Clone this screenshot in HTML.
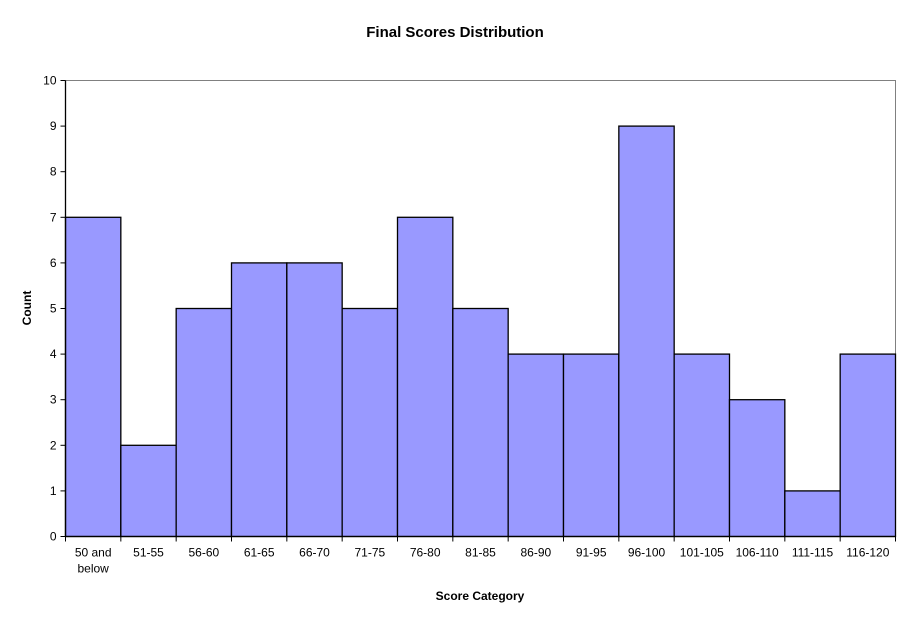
<!DOCTYPE html>
<html><head><meta charset="utf-8"><style>
body{margin:0;background:#fff;}
svg{display:block;font-family:"Liberation Sans",Arial,sans-serif;}
</style></head><body>
<svg id="chart" width="911" height="623">
<text x="455" y="37" text-anchor="middle" font-size="15" font-weight="bold">Final Scores Distribution</text>
<rect x="65.5" y="80.5" width="830" height="456" fill="#fff" stroke="#808080" stroke-width="1"/>
<g id="bars"></g>
<g id="axes"></g>
<text x="480" y="600" text-anchor="middle" font-size="12" font-weight="bold">Score Category</text>
<text transform="translate(31,308) rotate(-90)" text-anchor="middle" font-size="12" font-weight="bold">Count</text>
</svg>
<script>
const categories=["50 and below","51-55","56-60","61-65","66-70","71-75","76-80","81-85","86-90","91-95","96-100","101-105","106-110","111-115","116-120"];
const counts=[7,2,5,6,6,5,7,5,4,4,9,4,3,1,4];
const yTicks=[0,1,2,3,4,5,6,7,8,9,10];
const L=65.5,R=895.5,T=80.5,B=536.5,yMax=10;
const NS="http://www.w3.org/2000/svg";
const bw=(R-L)/categories.length;
function x(i){return L+i*bw;}
function y(v){return B-(v/yMax)*(B-T);}
const bars=document.getElementById('bars'),axes=document.getElementById('axes');
function mk(tag,attrs,parent){const e=document.createElementNS(NS,tag);for(const k in attrs)e.setAttribute(k,attrs[k]);parent.appendChild(e);return e;}
counts.forEach((v,i)=>{
  const r=mk('rect',{x:x(i),y:y(v),width:bw,height:B-y(v),fill:'#9999ff',stroke:'#000','stroke-width':1.3},bars);
  
  
});
const ya=mk('line',{x1:L,y1:T,x2:L,y2:B,stroke:'#000','stroke-width':1.3},axes);


const xa=mk('line',{x1:L,y1:B,x2:R,y2:B,stroke:'#000','stroke-width':1.3},axes);


yTicks.forEach(t=>{
  mk('line',{x1:L-5,y1:y(t),x2:L,y2:y(t),stroke:'#000'},axes);
  const tx=mk('text',{x:L-9,y:y(t)+4,'text-anchor':'end','font-size':12},axes);
  tx.textContent=t;
  
  
});
for(let i=0;i<=categories.length;i++)mk('line',{x1:x(i),y1:B,x2:x(i),y2:B+5,stroke:'#000'},axes);
categories.forEach((c,i)=>{
  const cx=x(i)+bw/2;
  const parts=c==="50 and below"?["50 and","below"]:[c];
  parts.forEach((p,j)=>{
    const tx=mk('text',{x:cx,y:B+20+j*16,'text-anchor':'middle','font-size':12},axes);
    tx.textContent=p;
    
    
  });
});
</script>
</body></html>
